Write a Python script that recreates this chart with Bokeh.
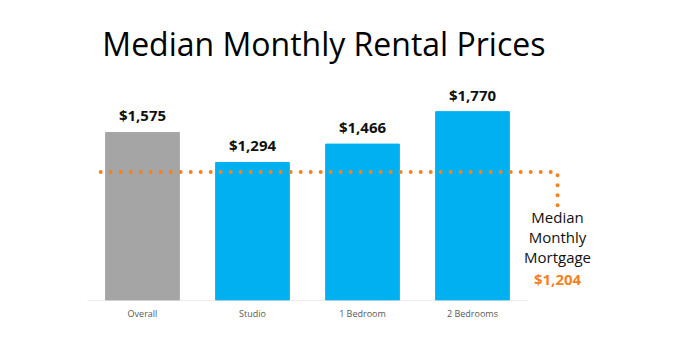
from bokeh.plotting import figure
from bokeh.models import Range1d, FixedTicker, ColumnDataSource, LabelSet, Label
from bokeh.core.properties import value
from bokeh.embed import file_html
from bokeh.resources import INLINE

# ---- data ----
categories = ["Overall", "Studio", "1 Bedroom", "2 Bedrooms"]
rent_values = [1575, 1294, 1466, 1770]
rent_labels = ["$1,575", "$1,294", "$1,466", "$1,770"]
bar_colors = ["#A5A5A5", "#00B0F0", "#00B0F0", "#00B0F0"]
mortgage_value = 1204
mortgage_label = "$1,204"
mortgage_text = ["Median", "Monthly", "Mortgage"]
title_text = "Median Monthly Rental Prices"
source_text = "realtor.com"

ORANGE = "#F5821F"
FONT = "Open Sans"

p = figure(width=684, height=344, output_backend="svg", toolbar_location=None,
           x_range=Range1d(-1.2909, 4.9273), y_range=Range1d(0, 2812),
           min_border_left=0, min_border_right=0, min_border_top=0, min_border_bottom=44,
           tools="")
p.outline_line_color = None
p.grid.visible = False
p.yaxis.visible = False

xs = list(range(len(categories)))
src = ColumnDataSource(dict(x=xs, top=rent_values, color=bar_colors, label=rent_labels))
p.vbar(x="x", top="top", bottom=0, width=0.67, color="color", source=src)

# baseline
p.segment(x0=[xs[0] - 0.5], y0=[0], x1=[xs[-1] + 0.5], y1=[0], line_color="#D9D9D9", line_width=1)

# x axis labels
ax = p.xaxis[0]
ax.ticker = FixedTicker(ticks=xs)
ax.major_label_overrides = {i: c for i, c in enumerate(categories)}
ax.axis_line_color = None
ax.major_tick_line_color = None
ax.minor_tick_line_color = None
ax.major_tick_out = 0
ax.major_tick_in = 0
ax.minor_tick_out = 0
ax.minor_tick_in = 0
ax.major_label_standoff = 6
ax.major_label_text_font = FONT
ax.major_label_text_font_size = "9px"
ax.major_label_text_color = "#595959"

# value labels
p.add_layout(LabelSet(x="x", y="top", text="label", source=src, y_offset=11,
                      text_align="center", text_baseline="alphabetic",
                      text_font=value(FONT), text_font_style="bold", text_font_size="15px",
                      text_color="#111111"))

# mortgage dotted line
line_x0 = xs[0] - 0.38
line_x1 = xs[-1] + 0.773
drop_y = 880
p.line(x=[line_x0, line_x1, line_x1], y=[mortgage_value, mortgage_value, drop_y],
       line_color=ORANGE, line_width=4, line_dash="0 10", line_cap="round", line_join="round")

# mortgage text
text_ys = [778, 595, 405]
for t, ty in zip(mortgage_text, text_ys):
    p.add_layout(Label(x=line_x1, y=ty, text=t, text_align="center", text_baseline="alphabetic",
                       text_font=FONT, text_font_size="15px", text_color="#111111"))
p.add_layout(Label(x=line_x1, y=200, text=mortgage_label, text_align="center",
                   text_baseline="alphabetic", text_font=FONT, text_font_style="bold",
                   text_font_size="15px", text_color=ORANGE))

# title
p.add_layout(Label(x=-0.365, y=2410, text=title_text, text_align="left", text_baseline="alphabetic",
                   text_font=FONT, text_font_size="32px", text_color="#000000"))

# source
p.add_layout(Label(x=4.100, y=-400, text=source_text, text_align="right", text_baseline="bottom",
                   text_font=FONT, text_font_size="8px", text_color="#A0A0A0"))

open("out.html", "w").write(file_html(p, INLINE))
